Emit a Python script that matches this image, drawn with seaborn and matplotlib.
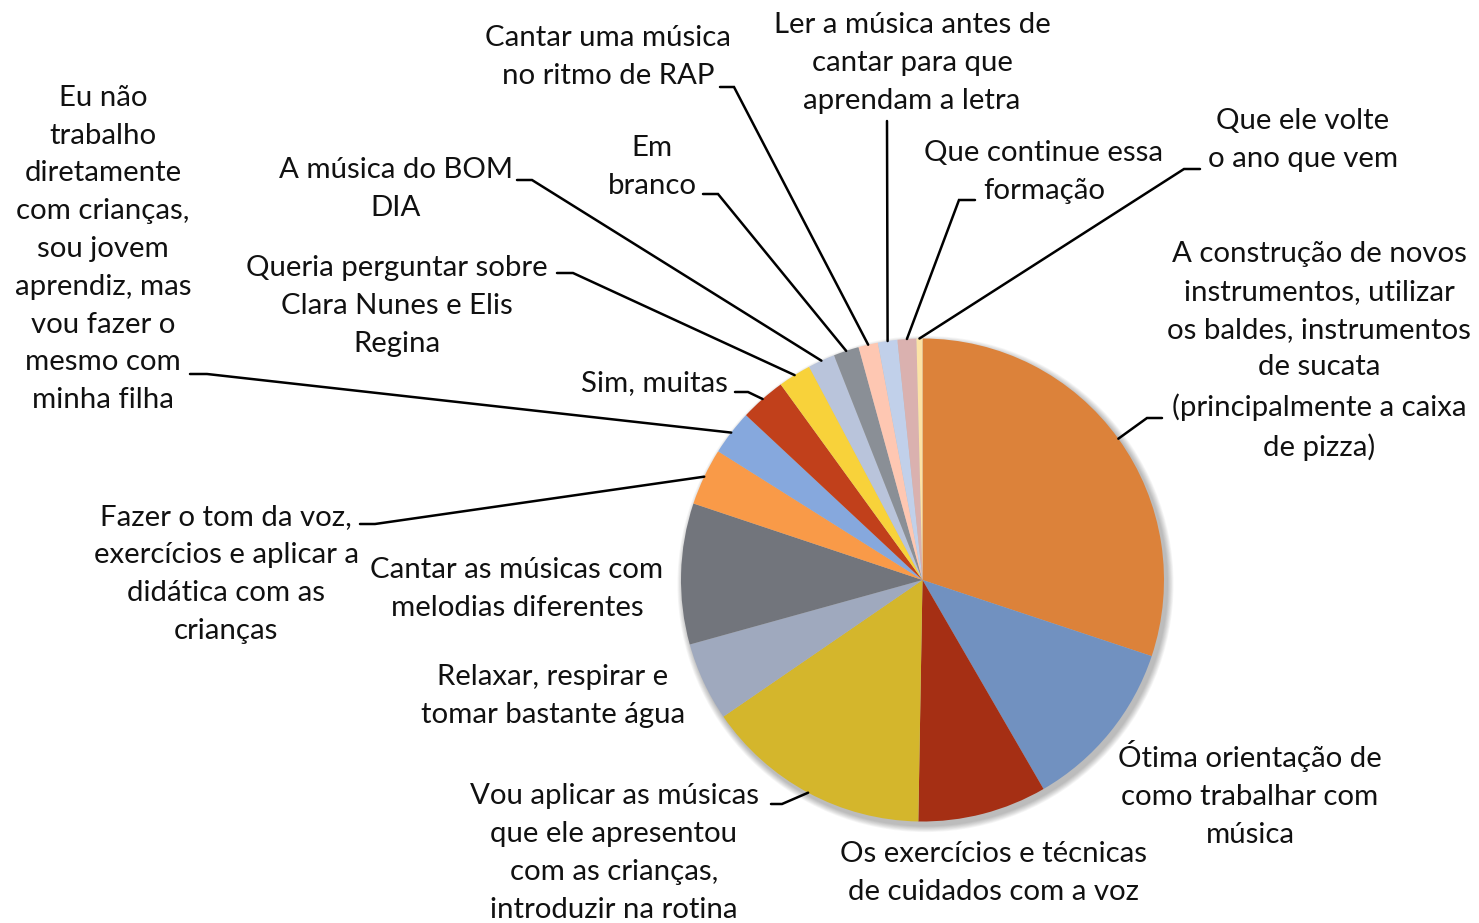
import matplotlib
matplotlib.use("Agg")
import matplotlib.pyplot as plt
import seaborn as sns
import numpy as np
from matplotlib.patches import Circle

sns.set_theme(style="white")
plt.rcParams['font.family'] = ['Lato', 'DejaVu Sans']

# answers (clockwise from 12 o'clock) and their share of responses (%)
answers = [
    "A construção de novos\ninstrumentos, utilizar\nos baldes, instrumentos\nde sucata\n(principalmente a caixa\nde pizza)",
    "Ótima orientação de\ncomo trabalhar com\nmúsica",
    "Os exercícios e técnicas\nde cuidados com a voz",
    "Vou aplicar as músicas\nque ele apresentou\ncom as crianças,\nintroduzir na rotina",
    "Relaxar, respirar e\ntomar bastante água",
    "Cantar as músicas com\nmelodias diferentes",
    "Fazer o tom da voz,\nexercícios e aplicar a\ndidática com as\ncrianças",
    "Eu não\ntrabalho\ndiretamente\ncom crianças,\nsou jovem\naprendiz, mas\nvou fazer o\nmesmo com\nminha filha",
    "Sim, muitas",
    "Queria perguntar sobre\nClara Nunes e Elis\nRegina",
    "A música do BOM\nDIA",
    "Em\nbranco",
    "Cantar uma música\nno ritmo de RAP",
    "Ler a música antes de\ncantar para que\naprendam a letra",
    "Que continue essa\nformação",
    "Que ele volte\no ano que vem",
]
shares = [30.0, 11.5, 8.6, 15.1, 5.25, 9.4, 3.8, 3.0, 3.05, 2.2, 1.8, 1.7, 1.3, 1.3, 1.25, 0.4]

colors = ["#DC823A", "#7191C0", "#A52F14", "#D4B62C", "#9FA9BE", "#72757C",
          "#F99A48", "#86A8DD", "#C1401B", "#F8D23A", "#B9C4DB", "#8A8F96",
          "#FEC7B2", "#C1D0EA", "#DAB1AF", "#FCE3A6"]
palette = sns.color_palette(colors)

# label layout in pixel coordinates: text centre, leader stub (x_text, x_pie, y)
label_pos = [(1319, 351), (1250, 794), (994, 873), (614, 853), (553, 696),
             (517, 589), (226, 574), (103, 249), (654, 383), (397, 306),
             (396, 189), (652, 167), (608, 57), (912, 63), (1044, 172), (1303, 140)]
stubs = [(1162, 1147, 418), None, None, (771, 782, 804), None, None,
         (360, 375, 524), (190, 207, 374), (735, 748, 392), (557, 573, 273),
         (517, 532, 180), (703, 718, 194), (720, 734, 87), (887, 887, 121),
         (975, 959, 200), (1200, 1184, 169)]

W, H = 1479, 923
cx, cy, R = 922.5, 580, 241.5

fig = plt.figure(figsize=(W / 100, H / 100), dpi=100)
ax = fig.add_axes([0, 0, 1, 1])

# soft shadow under the pie
for i in range(8):
    ax.add_patch(Circle((cx + 3, cy + 4), R + 1 + i * 0.8, color="black",
                        alpha=0.035, lw=0, zorder=0))

# y axis points down, so draw counter-clockwise from -90 to look clockwise from the top
wedges, _ = ax.pie(shares, colors=palette, startangle=-90, counterclock=True,
                   center=(cx, cy), radius=R, wedgeprops=dict(linewidth=0))
for w in wedges:
    w.set_zorder(2)

ax.set_xlim(0, W)
ax.set_ylim(H, 0)
ax.set_aspect("equal")
ax.axis("off")

for w, text, (tx, ty), stub in zip(wedges, answers, label_pos, stubs):
    ax.text(tx, ty, text, ha="center", va="center", multialignment="center",
            fontsize=21.2, color="#111111", linespacing=1.56, zorder=5)
    if stub is None:
        continue
    mid = np.deg2rad((w.theta1 + w.theta2) / 2)
    px, py = cx + R * np.cos(mid), cy + R * np.sin(mid)
    x0, x1, y = stub
    ax.plot([x0, x1, px], [y, y, py], color="black", lw=1.8,
            solid_joinstyle="miter", zorder=4)

fig.savefig("out.png", dpi=100, facecolor="white")
